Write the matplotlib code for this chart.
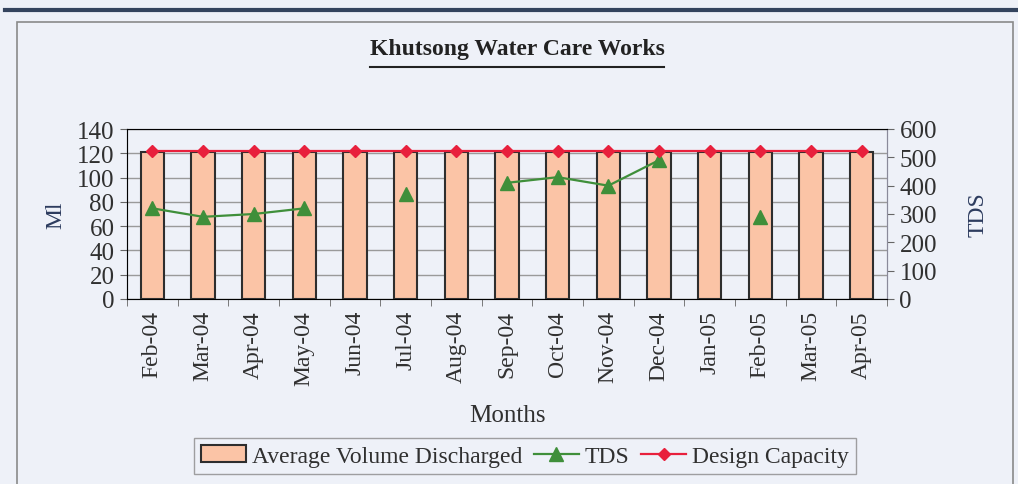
"""Khutsong Water Care Works: volume discharged vs TDS and design capacity."""

import numpy as np
import matplotlib

matplotlib.use("Agg")
import matplotlib.pyplot as plt  # noqa: E402
from matplotlib.lines import Line2D  # noqa: E402
from matplotlib.patches import Rectangle  # noqa: E402

_BG = "#eef1f8"
_INK = "#303030"
_NAVY = "#2c3b5e"
_BAR = "#fbc4a6"
_GREEN = "#3f8f3a"
_RED = "#e8203c"
_GRID = "#9a9a9a"

months = ["Feb-04", "Mar-04", "Apr-04", "May-04", "Jun-04", "Jul-04", "Aug-04",
          "Sep-04", "Oct-04", "Nov-04", "Dec-04", "Jan-05", "Feb-05", "Mar-05",
          "Apr-05"]
volume = [121, 121, 121, 121, 121, 121, 121, 121, 121, 121, 121, 121, 121, 121, 121]
design_capacity = [122] * 15
tds = [320, 290, 300, 320, np.nan, 370, np.nan, 410, 430, 400, 490, np.nan,
       290, np.nan, np.nan]

plt.rcParams.update({"font.family": ["Liberation Serif", "DejaVu Serif"],
                     "font.size": 17, "text.color": _INK,
                     "xtick.color": _INK, "ytick.color": _INK})

W, H = 1018, 485
fig = plt.figure(figsize=(W / 100, H / 100), dpi=100, facecolor=_BG)

# page decoration: dark rule at top and the chart frame
fig.add_artist(Line2D([5 / W, 1.0], [1 - 11 / H, 1 - 11 / H], color="#34445e",
                      lw=3, transform=fig.transFigure))
fig.add_artist(Rectangle((17 / W, -0.02), (1013 - 17) / W, 1 - 23 / H + 0.02,
                         transform=fig.transFigure, fill=False,
                         edgecolor="#8a8a8a", lw=1.2))

ax = fig.add_axes([127 / W, 1 - 300 / H, (887 - 127) / W, 170 / H])
ax.set_facecolor(_BG)
x = np.arange(len(months))

ax.bar(x, volume, width=0.46, color=_BAR, edgecolor="#2e2e2e", lw=1.5,
       zorder=2, label="Average Volume Discharged")

ax.set_xlim(-0.5, len(months) - 0.5)
ax.set_ylim(0, 140)
ax.set_yticks(range(0, 141, 20))
ax.set_xticks(x)
ax.set_xticklabels(months, rotation=90, fontsize=17)
ax.set_xticks(np.arange(-0.5, len(months)), minor=True)
ax.tick_params(axis="x", which="major", length=0, pad=8)
ax.tick_params(axis="x", which="minor", length=5, color="#666666")
ax.tick_params(axis="y", length=5, color="#666666", pad=4, labelsize=18)
ax.yaxis.grid(True, color=_GRID, lw=1, zorder=0)
ax.set_axisbelow(True)
for s in ax.spines.values():
    s.set_color("#8a8a9a")
ax.set_ylabel("Ml", color=_NAVY, fontsize=17, labelpad=8)
ax.set_xlabel("Months", color=_INK, fontsize=18, labelpad=14)

ax2 = ax.twinx()
ax2.plot(x, tds, color=_GREEN, lw=1.6, marker="^", ms=10,
         markerfacecolor=_GREEN, markeredgecolor=_GREEN, zorder=3, label="TDS")
# design capacity drawn in Ml units on top of everything
ax2.plot(x, np.array(design_capacity) * 600 / 140, color=_RED, lw=1.6,
         marker="D", ms=6.5, markerfacecolor=_RED, markeredgecolor=_RED,
         zorder=4, label="Design Capacity")
ax2.set_ylim(0, 600)
ax2.set_yticks(range(0, 601, 100))
ax2.tick_params(axis="y", length=5, color="#666666", pad=4, labelsize=18)
ax2.spines["right"].set_color("#8a8a9a")
ax2.set_ylabel("TDS", color=_NAVY, fontsize=17, labelpad=22)
ax2.patch.set_visible(False)

handles = [ax.patches[0], ax2.lines[0], ax2.lines[1]]
labels = ["Average Volume Discharged", "TDS", "Design Capacity"]
fig.legend(handles, labels, loc="center", ncol=3,
           bbox_to_anchor=(525 / W, 1 - 457 / H), frameon=True,
           fancybox=False, edgecolor="#8a8a8a", facecolor=_BG,
           handlelength=1.9, handletextpad=0.25, columnspacing=0.5,
           borderpad=0.3, fontsize=17)

title = fig.text(517 / W, 1 - 50 / H, "Khutsong Water Care Works",
                 ha="center", va="center", fontsize=17, fontweight="bold",
                 color="#222222")
fig.canvas.draw()
bb = title.get_window_extent().transformed(fig.transFigure.inverted())
fig.add_artist(Line2D([bb.x0, bb.x1], [1 - 68 / H, 1 - 68 / H], color="#222222",
                      lw=1.5, transform=fig.transFigure))

fig.savefig("out.png", dpi=100, facecolor=_BG)
